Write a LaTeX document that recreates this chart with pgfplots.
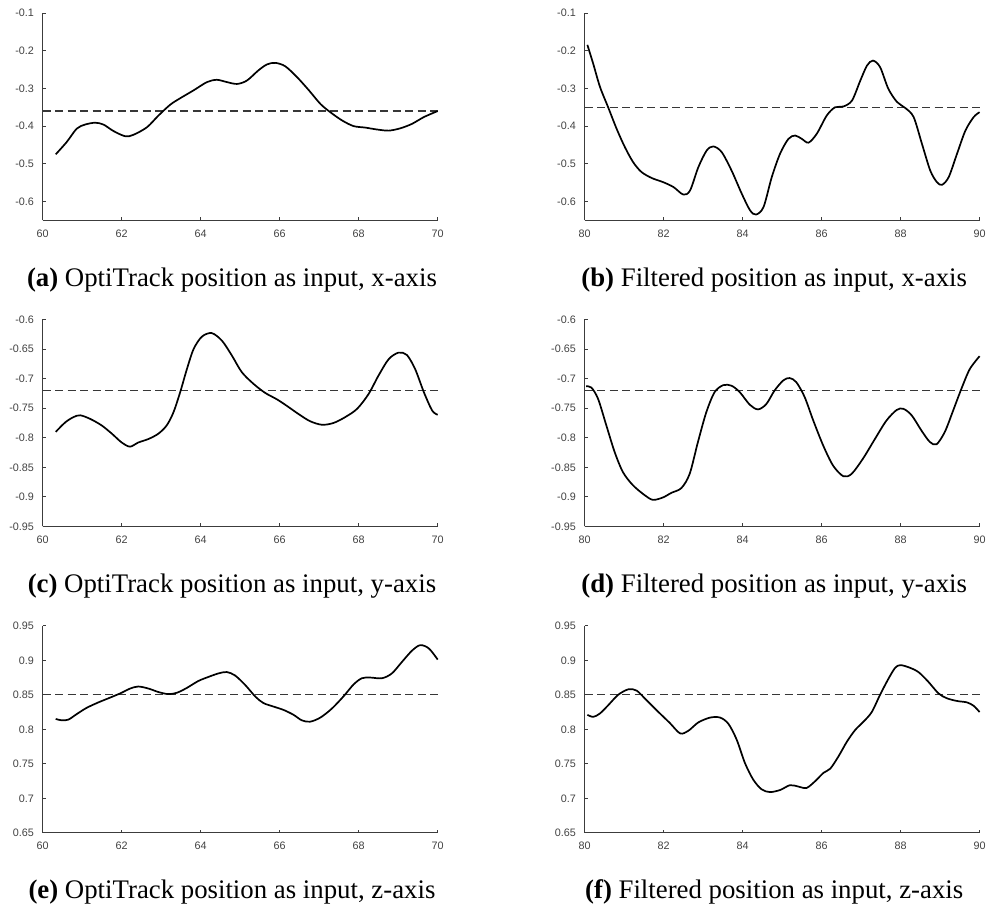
\documentclass[border=0pt]{standalone}
\usepackage{pgfplots}
\pgfplotsset{compat=1.18}
\usepackage{fontspec}
\setmainfont{Liberation Serif}
\newfontfamily\ticksans{Liberation Sans}

\definecolor{axisgray}{RGB}{60,60,60}
\definecolor{labelgray}{RGB}{65,65,65}
\definecolor{refgray}{RGB}{55,55,55}

\pgfplotsset{
  panel/.style={
    scale only axis, width=197.5pt, height=103.5pt,
    axis x line*=bottom, axis y line*=left,
    tick align=inside, major tick length=1.5pt,
    axis line style={draw=axisgray, line width=0.5pt},
    every tick/.style={draw=axisgray, line width=0.5pt},
    tick label style={font=\ticksans\fontsize{5.4}{6}\selectfont, text=labelgray},
    xticklabel style={inner sep=0pt, anchor=north, yshift=-4.6pt},
    yticklabel style={inner sep=0pt, anchor=east, xshift=-4.2pt},
    clip=false,
  },
  early/.style={xmin=60, xmax=70, xtick={60,62,64,66,68,70},
    xticklabels={60,62,64,66,68,70}},
  late/.style={xmin=80, xmax=90, xtick={80,82,84,86,88,90},
    xticklabels={80,82,84,86,88,90}},
  xrow/.style={ymin=-0.65, ymax=-0.1, ytick={-0.6,-0.5,-0.4,-0.3,-0.2,-0.1},
    yticklabels={-0.6,-0.5,-0.4,-0.3,-0.2,-0.1}},
  yrow/.style={ymin=-0.95, ymax=-0.6,
    ytick={-0.95,-0.9,-0.85,-0.8,-0.75,-0.7,-0.65,-0.6},
    yticklabels={-0.95,-0.9,-0.85,-0.8,-0.75,-0.7,-0.65,-0.6}},
  zrow/.style={ymin=0.65, ymax=0.95,
    ytick={0.65,0.7,0.75,0.8,0.85,0.9,0.95},
    yticklabels={0.65,0.7,0.75,0.8,0.85,0.9,0.95}},
  response/.style={black, line width=0.85pt, smooth, tension=0.5, no marks},
  setpoint/.style={refgray, line width=0.55pt, dash pattern=on 4pt off 2.25pt, no marks},
}

\newcommand{\subcap}[2]{\fontsize{13.4}{15}\selectfont\textbf{(#1)} #2}

\begin{document}
\begin{tikzpicture}
\path[use as bounding box] (0pt,0pt) rectangle (493pt,454.5pt);

% (a) OptiTrack input, x-axis
\begin{axis}[panel, early, xrow, at={(21.35pt,344.4pt)}, anchor=south west]
\addplot[setpoint] coordinates {(60,-0.36) (70,-0.36)};
\addplot[response] coordinates {
(60.33,-0.475) (60.61,-0.442) (60.86,-0.407) (61.07,-0.396) (61.33,-0.391)
(61.54,-0.396) (61.79,-0.413) (62.09,-0.427) (62.30,-0.423) (62.64,-0.403)
(62.93,-0.372) (63.23,-0.343) (63.48,-0.326) (63.82,-0.305) (64.16,-0.283)
(64.41,-0.277) (64.66,-0.283) (64.92,-0.288) (65.17,-0.279) (65.46,-0.252)
(65.68,-0.236) (65.89,-0.232) (66.14,-0.241) (66.44,-0.270) (66.74,-0.305)
(67.03,-0.341) (67.28,-0.363) (67.58,-0.385) (67.87,-0.400) (68.17,-0.404)
(68.46,-0.409) (68.76,-0.412) (69.05,-0.406) (69.35,-0.394) (69.65,-0.376)
(70.00,-0.360)};
\end{axis}

% (b) filtered input, x-axis
\begin{axis}[panel, late, xrow, at={(292.3pt,344.4pt)}, anchor=south west]
\addplot[setpoint] coordinates {(80,-0.35) (90,-0.35)};
\addplot[response] coordinates {
(80.07,-0.184) (80.22,-0.235) (80.39,-0.296) (80.60,-0.351) (80.81,-0.407)
(81.02,-0.456) (81.23,-0.496) (81.44,-0.522) (81.70,-0.538) (81.99,-0.549)
(82.25,-0.562) (82.50,-0.582) (82.67,-0.571) (82.88,-0.509) (83.09,-0.465)
(83.26,-0.454) (83.47,-0.469) (83.72,-0.518) (83.98,-0.580) (84.19,-0.624)
(84.34,-0.635) (84.53,-0.615) (84.74,-0.535) (84.95,-0.473) (85.16,-0.434)
(85.33,-0.425) (85.50,-0.434) (85.67,-0.444) (85.88,-0.420) (86.13,-0.372)
(86.34,-0.350) (86.55,-0.348) (86.77,-0.332) (86.98,-0.279) (87.15,-0.239)
(87.30,-0.226) (87.48,-0.243) (87.69,-0.301) (87.91,-0.336) (88.12,-0.352)
(88.33,-0.376) (88.54,-0.447) (88.75,-0.518) (88.92,-0.549) (89.05,-0.556)
(89.22,-0.535) (89.43,-0.473) (89.64,-0.412) (89.85,-0.376) (90.00,-0.363)};
\end{axis}

% (c) OptiTrack input, y-axis
\begin{axis}[panel, early, yrow, at={(21.35pt,191.25pt)}, anchor=south west]
\addplot[setpoint] coordinates {(60,-0.72) (70,-0.72)};
\addplot[response] coordinates {
(60.33,-0.790) (60.57,-0.774) (60.78,-0.765) (60.95,-0.762) (61.20,-0.768)
(61.49,-0.779) (61.75,-0.793) (62.00,-0.808) (62.21,-0.815) (62.42,-0.808)
(62.68,-0.802) (62.93,-0.793) (63.14,-0.779) (63.31,-0.757) (63.48,-0.723)
(63.65,-0.684) (63.82,-0.650) (64.03,-0.629) (64.28,-0.623) (64.54,-0.636)
(64.79,-0.661) (65.04,-0.689) (65.34,-0.709) (65.63,-0.724) (65.93,-0.735)
(66.18,-0.746) (66.48,-0.760) (66.77,-0.772) (67.07,-0.778) (67.36,-0.775)
(67.66,-0.765) (67.96,-0.751) (68.25,-0.726) (68.50,-0.695) (68.76,-0.667)
(69.01,-0.656) (69.22,-0.660) (69.43,-0.684) (69.65,-0.723) (69.86,-0.754)
(70.00,-0.761)};
\end{axis}

% (d) filtered input, y-axis
\begin{axis}[panel, late, yrow, at={(292.3pt,191.25pt)}, anchor=south west]
\addplot[setpoint] coordinates {(80,-0.72) (90,-0.72)};
\addplot[response] coordinates {
(80.04,-0.713) (80.17,-0.715) (80.34,-0.734) (80.55,-0.779) (80.76,-0.824)
(80.97,-0.858) (81.22,-0.880) (81.52,-0.897) (81.73,-0.905) (81.98,-0.901)
(82.20,-0.893) (82.45,-0.885) (82.66,-0.861) (82.87,-0.807) (83.08,-0.757)
(83.29,-0.723) (83.51,-0.711) (83.72,-0.712) (83.93,-0.723) (84.18,-0.744)
(84.39,-0.752) (84.60,-0.743) (84.81,-0.720) (85.03,-0.703) (85.19,-0.699)
(85.36,-0.706) (85.57,-0.731) (85.79,-0.771) (86.04,-0.813) (86.29,-0.847)
(86.55,-0.865) (86.76,-0.861) (87.05,-0.835) (87.35,-0.802) (87.64,-0.771)
(87.90,-0.753) (88.07,-0.751) (88.28,-0.762) (88.53,-0.788) (88.74,-0.807)
(88.91,-0.811) (89.12,-0.790) (89.33,-0.754) (89.54,-0.717) (89.75,-0.684)
(90.00,-0.662)};
\end{axis}

% (e) OptiTrack input, z-axis
\begin{axis}[panel, early, zrow, at={(21.35pt,38.1pt)}, anchor=south west]
\addplot[setpoint] coordinates {(60,0.85) (70,0.85)};
\addplot[response] coordinates {
(60.33,0.815) (60.48,0.813) (60.65,0.814) (60.86,0.822) (61.11,0.831)
(61.41,0.839) (61.71,0.846) (62.00,0.853) (62.21,0.859) (62.42,0.862)
(62.68,0.859) (62.93,0.854) (63.18,0.851) (63.40,0.853) (63.65,0.860)
(63.94,0.870) (64.20,0.876) (64.45,0.881) (64.66,0.883) (64.87,0.878)
(65.13,0.864) (65.39,0.847) (65.59,0.838) (65.84,0.833) (66.10,0.828)
(66.35,0.821) (66.56,0.813) (66.77,0.811) (67.03,0.817) (67.32,0.830)
(67.62,0.848) (67.87,0.865) (68.08,0.874) (68.29,0.875) (68.59,0.874)
(68.84,0.881) (69.10,0.898) (69.35,0.914) (69.56,0.922) (69.78,0.917)
(70.00,0.901)};
\end{axis}

% (f) filtered input, z-axis
\begin{axis}[panel, late, zrow, at={(292.3pt,38.1pt)}, anchor=south west]
\addplot[setpoint] coordinates {(80,0.85) (90,0.85)};
\addplot[response] coordinates {
(80.07,0.821) (80.22,0.818) (80.39,0.823) (80.60,0.835) (80.85,0.850)
(81.11,0.858) (81.32,0.856) (81.57,0.842) (81.87,0.825) (82.16,0.809)
(82.42,0.794) (82.63,0.798) (82.88,0.810) (83.18,0.817) (83.43,0.817)
(83.64,0.808) (83.85,0.785) (84.06,0.751) (84.27,0.727) (84.48,0.713)
(84.69,0.709) (84.95,0.712) (85.20,0.719) (85.41,0.717) (85.62,0.715)
(85.84,0.725) (86.05,0.737) (86.22,0.743) (86.43,0.761) (86.64,0.782)
(86.85,0.799) (87.06,0.811) (87.27,0.825) (87.48,0.850) (87.69,0.873)
(87.86,0.889) (87.99,0.893) (88.20,0.890) (88.45,0.883) (88.70,0.869)
(88.96,0.852) (89.17,0.845) (89.43,0.841) (89.68,0.839) (89.85,0.834)
(90.00,0.825)};
\end{axis}

% sub-captions
\node[anchor=base] at (116pt,311.15pt) {\subcap{a}{OptiTrack position as input, x-axis}};
\node[anchor=base] at (387.1pt,311.15pt) {\subcap{b}{Filtered position as input, x-axis}};
\node[anchor=base] at (116pt,158.15pt) {\subcap{c}{OptiTrack position as input, y-axis}};
\node[anchor=base] at (387.1pt,158.15pt) {\subcap{d}{Filtered position as input, y-axis}};
\node[anchor=base] at (116pt,5.15pt) {\subcap{e}{OptiTrack position as input, z-axis}};
\node[anchor=base] at (387.1pt,5.15pt) {\subcap{f}{Filtered position as input, z-axis}};
\end{tikzpicture}
\end{document}
